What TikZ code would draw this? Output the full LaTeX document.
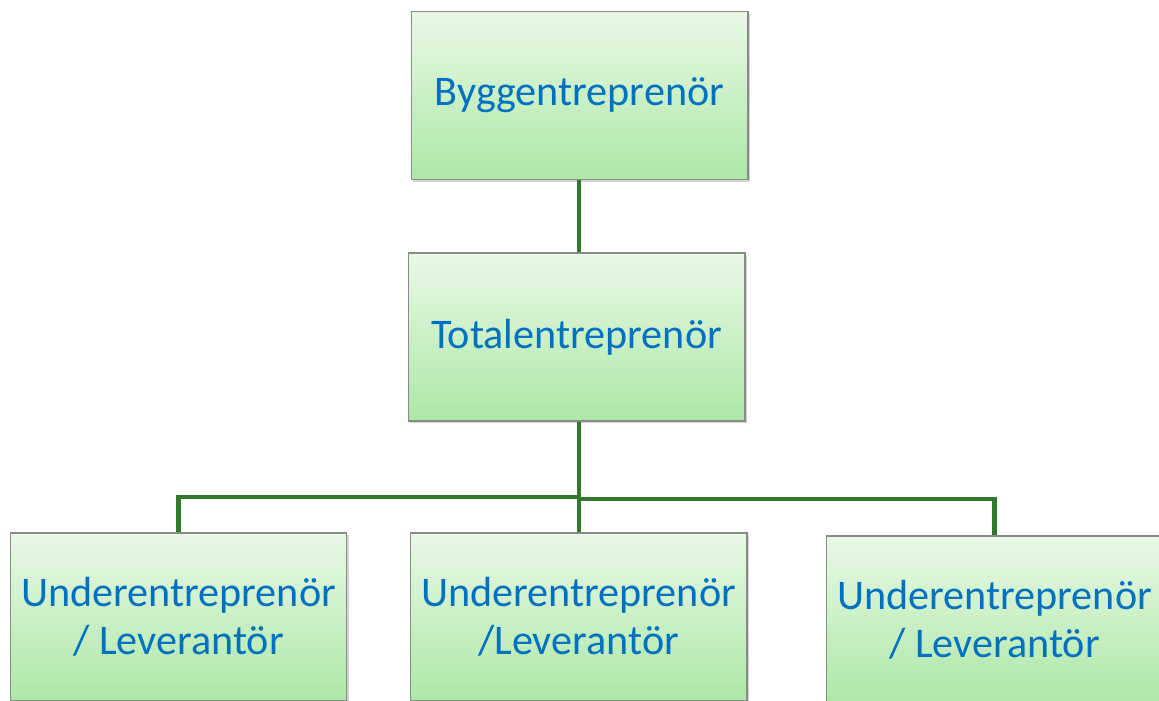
\documentclass[tikz,border=0pt]{standalone}
\usepackage{fontspec}
\setmainfont{Carlito}
\usepackage{tikz}
\usepackage{xcolor}
\usetikzlibrary{shadows}

\definecolor{boxtop}{HTML}{E9F8E6}
\definecolor{boxbottom}{HTML}{ACE8A6}
\definecolor{boxline}{HTML}{8A8A8A}
\definecolor{textblue}{HTML}{0070C0}
\definecolor{linkgreen}{HTML}{317A2C}

\begin{document}
\begin{tikzpicture}[x=0.02cm, y=-0.02cm,
    box/.style={draw=boxline, line width=0.6pt, top color=boxtop, bottom color=boxbottom,
      minimum width=6.74cm, minimum height=3.36cm, inner sep=0pt, align=center,
      text=textblue, font=\fontsize{24}{27.5}\selectfont,
      drop shadow={shadow xshift=1.2pt, shadow yshift=-1.2pt, opacity=0.35}},
    link/.style={draw=linkgreen, line width=2.8pt}]

    \useasboundingbox (0,0) rectangle (1159,700);

    % Top level
    \node[box] (byg) at (579.5,95.5) {Byggentreprenör};
    \node[box] (tot) at (576.5,337) {Totalentreprenör};

    % Bottom row
    \node[box] (ul) at (178.5,617) {Underentreprenör\\/ Leverantör};
    \node[box] (um) at (578.5,617) {Underentreprenör\\/Leverantör};
    \node[box] (ur) at (994.5,620) {Underentreprenör\\/ Leverantör};

    % Junctions of the tree
    \coordinate (jl) at (579,497);
    \coordinate (jr) at (579,499);

    % Connectors
    \draw[link] (byg.south -| jl) -- (jl |- tot.north);
    \draw[link] (jl |- tot.south) -- (jl) -| (ul.north);
    \draw[link] (jl) -- (jl |- um.north);
    \draw[link] (jr) -| (ur.north);
\end{tikzpicture}
\end{document}
